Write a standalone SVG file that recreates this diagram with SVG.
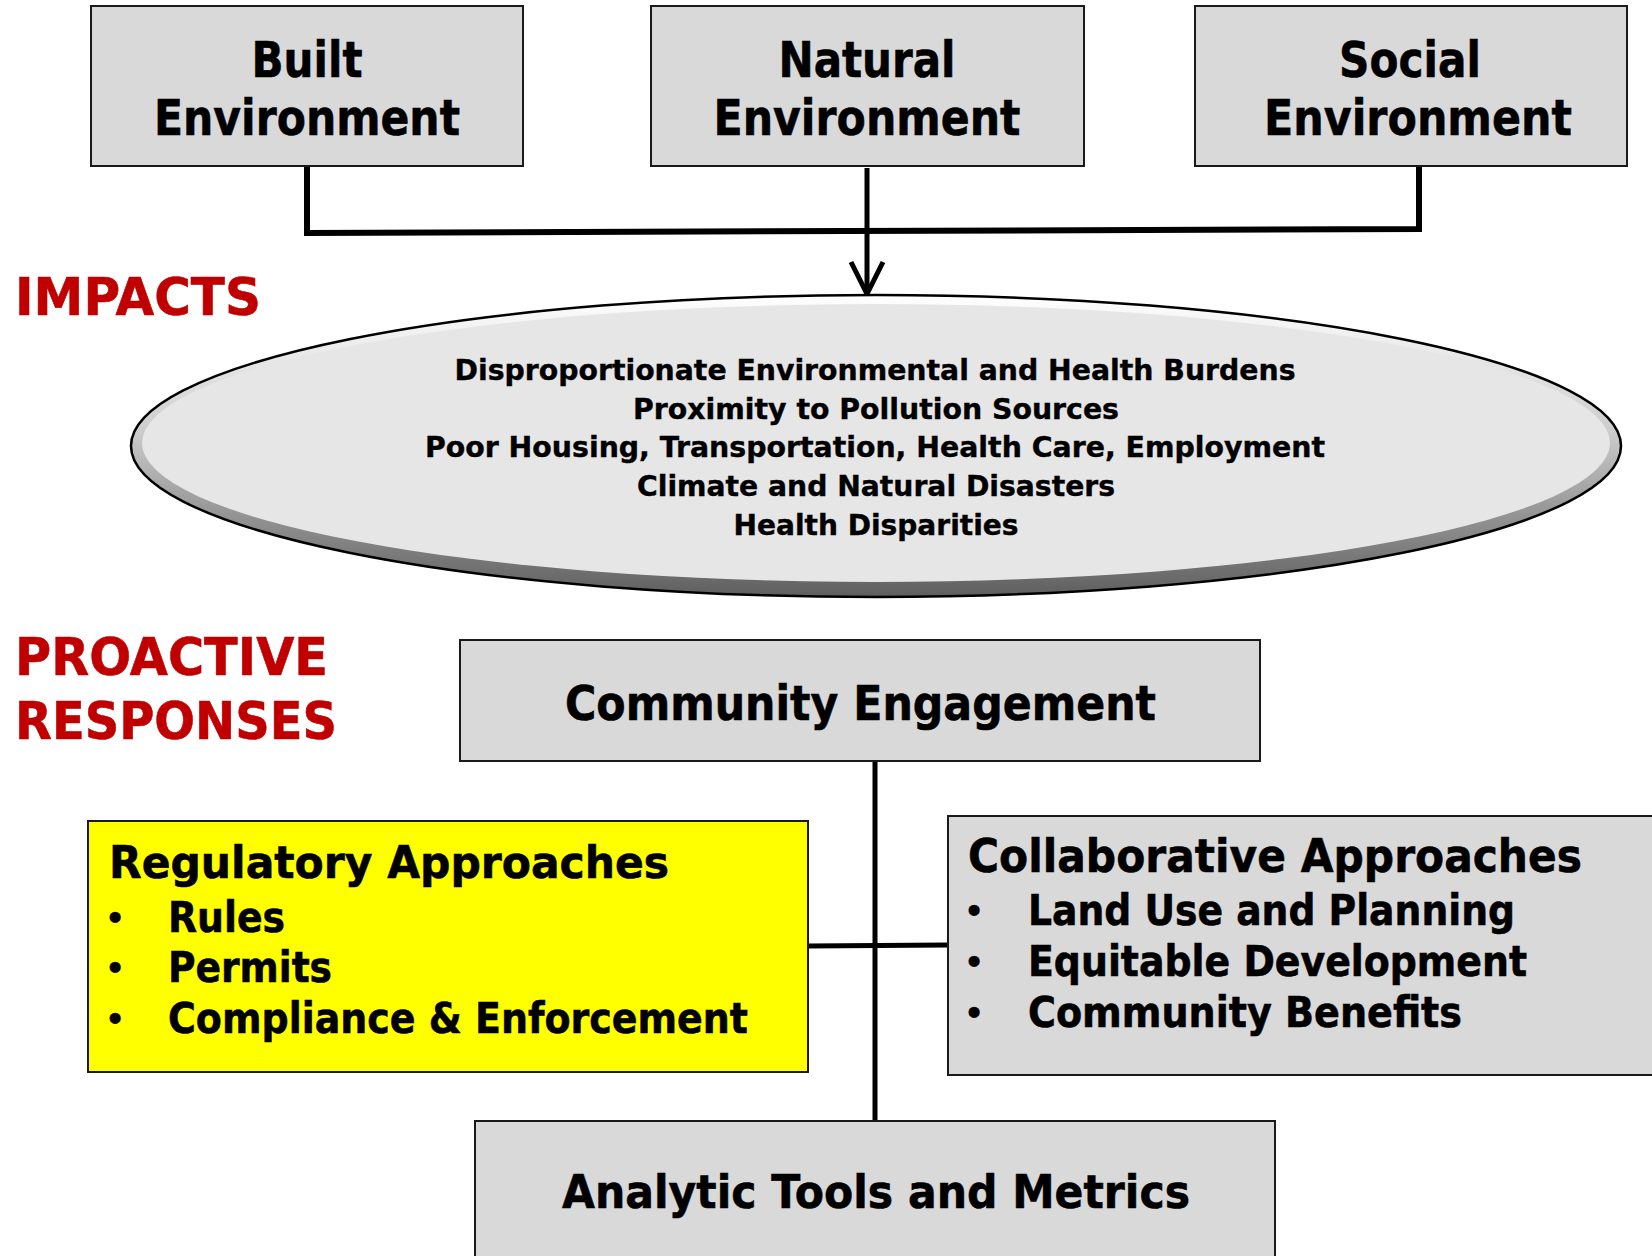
<svg xmlns="http://www.w3.org/2000/svg" width="1652" height="1256" viewBox="0 0 1652 1256">
<style>
  text { font-family: "DejaVu Sans", Verdana, sans-serif; font-weight: bold; fill: #000; stroke: #000; stroke-width: 0.6px; }
  .box { fill: #d9d9d9; stroke: #1a1a1a; stroke-width: 2; }
  .yel { fill: #ffff00; stroke: #1a1a1a; stroke-width: 2; }
  .red { fill: #c00000; stroke: #c00000; font-size: 52px; }
  .top { font-size: 50px; text-anchor: middle; }
  .ell { font-size: 28px; text-anchor: middle; stroke-width: 0.4px; }
  .bul { font-size: 30px; text-anchor: middle; }
  .conn { fill: none; stroke: #000; stroke-linejoin: miter; stroke-linecap: butt; }
</style>
<defs>
  <linearGradient id="rim" x1="0" y1="0" x2="0" y2="1">
    <stop offset="0" stop-color="#ffffff"/>
    <stop offset="0.45" stop-color="#cccccc"/>
    <stop offset="1" stop-color="#5e5e5e"/>
  </linearGradient>
</defs>
<rect width="1652" height="1256" fill="#ffffff"/>

<g id="connectors">
  <polyline class="conn" stroke-width="6" points="307,165 307,233 1419,229 1419,165"/>
  <line class="conn" stroke-width="5" x1="867" y1="168" x2="867" y2="294"/>
  <polyline class="conn" stroke-width="5" points="851,262 867,294 883,262"/>
  <line class="conn" stroke-width="5" x1="875" y1="761" x2="875" y2="1121"/>
  <line class="conn" stroke-width="5" x1="808" y1="946" x2="948" y2="945"/>
</g>

<g id="built">
  <rect class="box" x="91" y="6" width="432" height="160"/>
  <text class="top" x="307" y="77" textLength="111" lengthAdjust="spacingAndGlyphs">Built</text>
  <text class="top" x="307" y="135" textLength="306" lengthAdjust="spacingAndGlyphs">Environment</text>
</g>
<g id="natural">
  <rect class="box" x="651" y="6" width="433" height="160"/>
  <text class="top" x="867" y="77" textLength="177" lengthAdjust="spacingAndGlyphs">Natural</text>
  <text class="top" x="867" y="135" textLength="307" lengthAdjust="spacingAndGlyphs">Environment</text>
</g>
<g id="social">
  <rect class="box" x="1195" y="6" width="432" height="160"/>
  <text class="top" x="1410" y="77" textLength="142" lengthAdjust="spacingAndGlyphs">Social</text>
  <text class="top" x="1418" y="135" textLength="308" lengthAdjust="spacingAndGlyphs">Environment</text>
</g>

<g id="impacts-label">
  <text class="red" x="15" y="315" textLength="246" lengthAdjust="spacingAndGlyphs">IMPACTS</text>
</g>

<g id="impacts">
  <ellipse cx="876" cy="446" rx="745" ry="151" fill="url(#rim)" stroke="#000" stroke-width="2.5"/>
  <ellipse cx="876" cy="443" rx="734" ry="139" fill="#e6e6e6"/>
  <text class="ell" x="875" y="380" textLength="841" lengthAdjust="spacingAndGlyphs">Disproportionate Environmental and Health Burdens</text>
  <text class="ell" x="876" y="419" textLength="486" lengthAdjust="spacingAndGlyphs">Proximity to Pollution Sources</text>
  <text class="ell" x="875" y="457" textLength="900" lengthAdjust="spacingAndGlyphs">Poor Housing, Transportation, Health Care, Employment</text>
  <text class="ell" x="876" y="496" textLength="478" lengthAdjust="spacingAndGlyphs">Climate and Natural Disasters</text>
  <text class="ell" x="876" y="535" textLength="285" lengthAdjust="spacingAndGlyphs">Health Disparities</text>
</g>

<g id="proactive-label">
  <text class="red" x="15" y="675" textLength="313" lengthAdjust="spacingAndGlyphs">PROACTIVE</text>
  <text class="red" x="15" y="739" textLength="322" lengthAdjust="spacingAndGlyphs">RESPONSES</text>
</g>

<g id="community-engagement">
  <rect class="box" x="460" y="640" width="800" height="121"/>
  <text x="860.5" y="720" font-size="48" text-anchor="middle" textLength="591" lengthAdjust="spacingAndGlyphs">Community Engagement</text>
</g>

<g id="regulatory">
  <rect class="yel" x="88" y="821" width="720" height="251"/>
  <text x="109" y="878" font-size="45" textLength="560" lengthAdjust="spacingAndGlyphs">Regulatory Approaches</text>
  <text class="bul" x="115" y="929">•</text>
  <text x="168" y="932" font-size="42" textLength="117" lengthAdjust="spacingAndGlyphs">Rules</text>
  <text class="bul" x="115" y="979">•</text>
  <text x="168" y="982" font-size="42" textLength="164" lengthAdjust="spacingAndGlyphs">Permits</text>
  <text class="bul" x="115" y="1030">•</text>
  <text x="168" y="1033" font-size="42" textLength="580" lengthAdjust="spacingAndGlyphs">Compliance &amp; Enforcement</text>
</g>

<g id="collaborative">
  <rect class="box" x="948" y="816" width="720" height="259"/>
  <text x="968" y="872" font-size="46" textLength="614" lengthAdjust="spacingAndGlyphs">Collaborative Approaches</text>
  <text class="bul" x="974" y="922">•</text>
  <text x="1028" y="925" font-size="42" textLength="487" lengthAdjust="spacingAndGlyphs">Land Use and Planning</text>
  <text class="bul" x="974" y="973">•</text>
  <text x="1028" y="976" font-size="42" textLength="499" lengthAdjust="spacingAndGlyphs">Equitable Development</text>
  <text class="bul" x="974" y="1024">•</text>
  <text x="1028" y="1027" font-size="42" textLength="434" lengthAdjust="spacingAndGlyphs">Community Benefits</text>
</g>

<g id="analytic">
  <rect class="box" x="475" y="1121" width="800" height="150"/>
  <text x="876" y="1208" font-size="46" text-anchor="middle" textLength="628" lengthAdjust="spacingAndGlyphs">Analytic Tools and Metrics</text>
</g>
</svg>
